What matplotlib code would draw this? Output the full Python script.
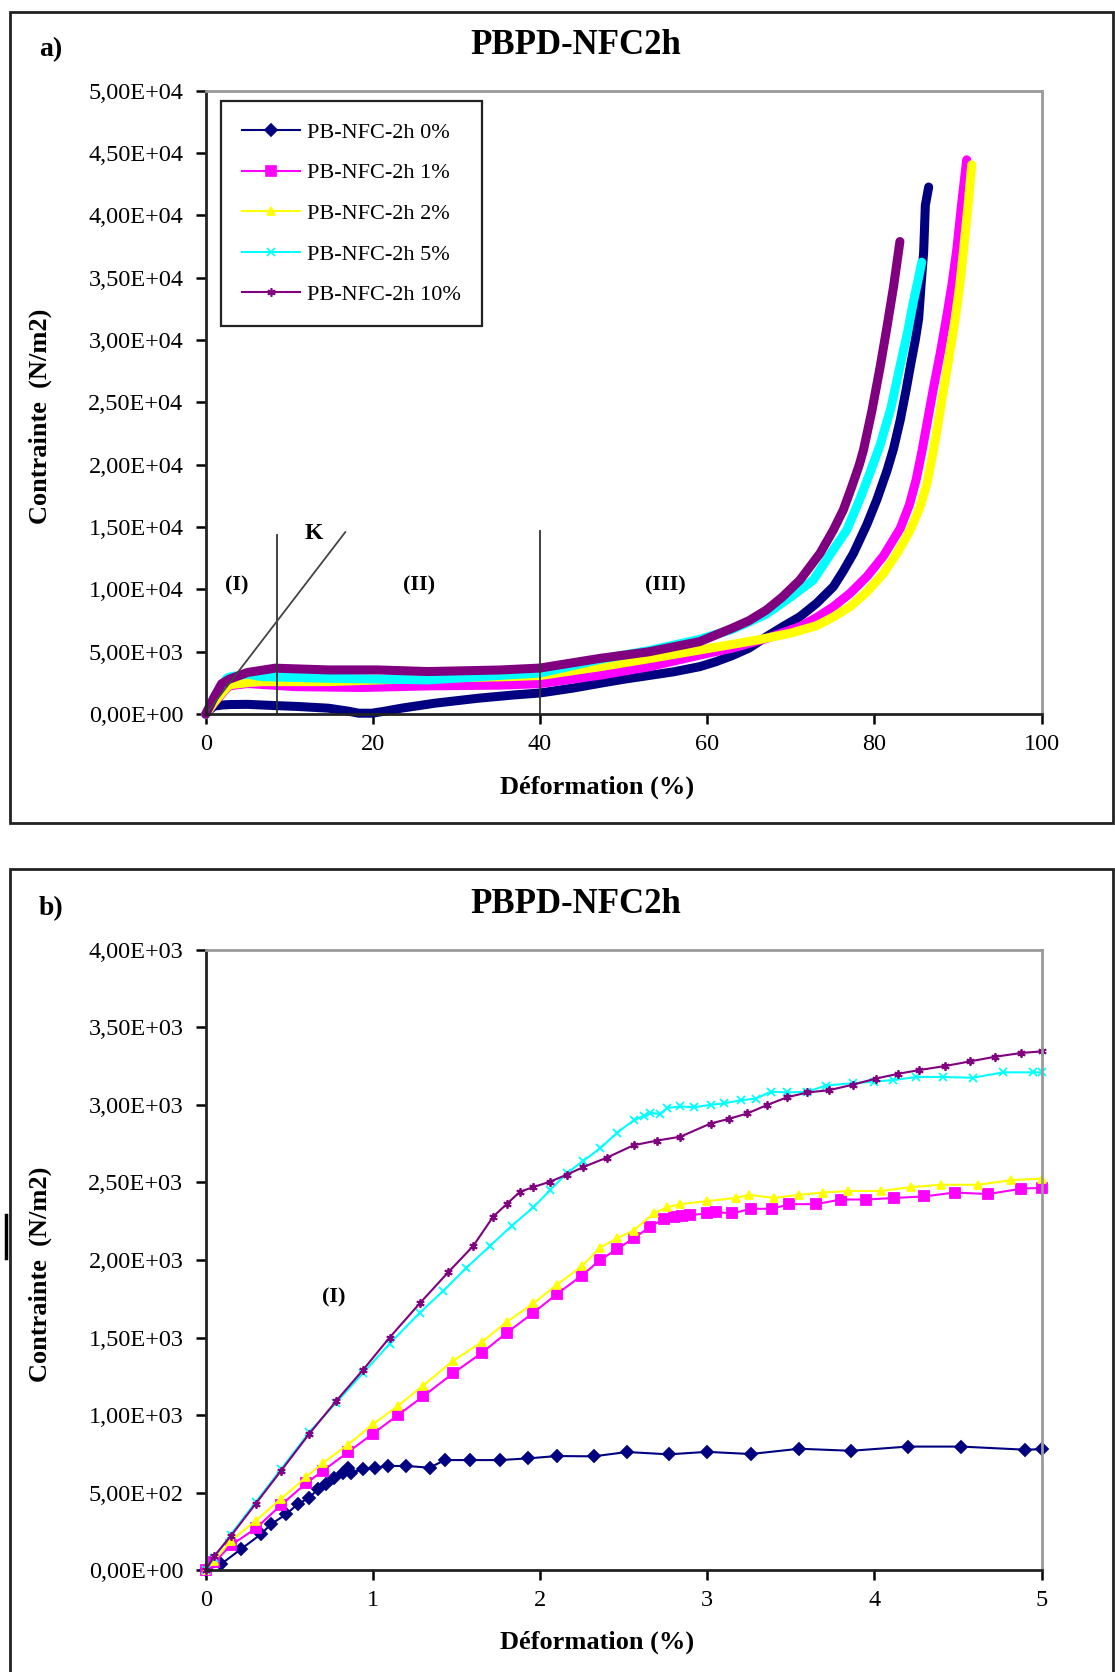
import matplotlib
matplotlib.use("Agg")
import matplotlib.pyplot as plt
from matplotlib.lines import Line2D
from matplotlib.patches import Rectangle
from matplotlib.ticker import FuncFormatter

plt.rcParams['font.family'] = ['Liberation Serif', 'DejaVu Serif']

W, H = 1115, 1672

labels = ["PB-NFC-2h 0%", "PB-NFC-2h 1%", "PB-NFC-2h 2%", "PB-NFC-2h 5%", "PB-NFC-2h 10%"]
colors = ["#000080", "#ff00ff", "#ffff00", "#00ffff", "#800080"]
markers = ["D", "s", "^", "x", (6, 2, 0)]

# ---- panel a : full test (strain %, stress N/m2)
a_x0 = [0, 0.5, 1, 2, 3, 5, 8, 11, 14.7, 17, 18.3, 19.9, 21.5, 23.4, 27.4, 32.6, 37, 40, 44, 47.2, 50, 53,
        56, 59.1, 61, 63, 65, 67.1, 69, 71.1, 73.1, 75.1, 76.3, 77.5, 79.1, 80.3, 81.5, 82.3, 83.1, 83.8, 84.3,
        84.9, 85.3, 85.6, 85.9, 86.1, 86.5]
a_y0 = [0, 360, 650, 740, 775, 790, 700, 620, 480, 250, 80, 80, 250, 480, 880, 1280, 1550, 1700, 2100, 2480,
        2800, 3100, 3400, 3810, 4200, 4700, 5300, 6220, 7000, 7820, 8900, 10226, 11500, 12900, 15200, 17200,
        19500, 21300, 23590, 26000, 27870, 30000, 31700, 34500, 37050, 40800, 42270]
a_x1 = [0, 0.5, 1, 2, 2.8, 3.1, 5, 10.7, 18.7, 26.6, 35.2, 40, 47.2, 53, 59.1, 63, 67, 71.1, 73.1, 75.1, 77.1,
        79.1, 81.1, 83.1, 84.2, 85, 85.67, 86.3, 87.06, 87.9, 88.66, 89.3, 89.86, 90.46, 91.05]
a_y1 = [0, 450, 890, 1690, 2280, 2300, 2460, 2210, 2140, 2270, 2330, 2450, 3130, 3800, 4740, 5300, 6050, 7020,
        7750, 8620, 9700, 11030, 12700, 14900, 16800, 18800, 21000, 23300, 26100, 29000, 31880, 34500, 37230,
        41000, 44450]
a_x2 = [0, 0.5, 1, 2, 2.8, 3.1, 5, 6.7, 14.7, 26.6, 36.2, 40, 47.2, 53, 59.1, 63, 66, 70, 73.1, 75.1, 77.1,
        79.1, 81.1, 82.8, 84.3, 85.4, 86.3, 87, 87.6, 88.25, 89, 89.65, 90.2, 90.64, 91.24, 91.65]
a_y2 = [0, 470, 950, 1760, 2340, 2380, 2530, 2610, 2610, 2880, 3010, 3100, 3810, 4450, 5150, 5600, 5950, 6500,
        7100, 7800, 8620, 9800, 11300, 13000, 14770, 16500, 18500, 20900, 23200, 25900, 28900, 31600, 34300,
        37000, 41000, 44050]
a_x5 = [0, 1, 1.96, 2.56, 3, 5, 6.7, 14.7, 26.6, 36.2, 40, 47.2, 53, 59.1, 63, 65, 67, 70, 72.7, 74.7, 76.7,
        78.3, 79.5, 80.7, 82, 83.06, 84, 84.66, 85.2, 85.67]
a_y5 = [0, 1350, 2340, 2900, 3000, 3210, 3010, 2880, 2750, 3150, 3300, 4400, 5100, 6000, 6800, 7400, 8000, 9400,
        10760, 12800, 14770, 17300, 19400, 21600, 24600, 27870, 30700, 33030, 34700, 36240]
a_x10 = [0, 1, 1.9, 2.8, 5, 8.3, 14.7, 20.6, 26.6, 35.2, 40, 47.2, 53, 59.1, 63, 65, 67.1, 69, 71.1, 73.5, 75.1,
         76.3, 77.3, 78.2, 78.7, 79.7, 80.7, 81.5, 82.3, 83.06]
a_y10 = [0, 1350, 2440, 2800, 3345, 3690, 3550, 3550, 3420, 3545, 3700, 4480, 5000, 5820, 6900, 7500, 8360, 9400,
         10760, 12900, 14770, 16400, 18240, 20000, 21190, 24300, 27870, 31000, 34290, 37900]

# ---- panel b : zoom on the first 5 %
b_x0 = [0, 0.09, 0.21, 0.33, 0.39, 0.48, 0.55, 0.62, 0.67, 0.72, 0.77, 0.82, 0.85, 0.87, 0.94, 1.01, 1.09,
        1.2, 1.34, 1.43, 1.58, 1.76, 1.93, 2.1, 2.32, 2.52, 2.77, 3.0, 3.26, 3.55, 3.86, 4.2, 4.52, 4.9, 5.0]
b_y0 = [0, 38, 135, 232, 296, 360, 425, 468, 521, 553, 597, 629, 661, 629, 650, 661, 672, 672, 661, 710,
        710, 710, 721, 736, 734, 762, 747, 763, 749, 783, 770, 797, 797, 777, 780]
b_x1 = [0, 0.05, 0.15, 0.3, 0.45, 0.6, 0.7, 0.85, 1.0, 1.15, 1.3, 1.48, 1.65, 1.8, 1.96, 2.1, 2.25, 2.36, 2.46,
        2.56, 2.66, 2.74, 2.8, 2.85, 2.9, 3.0, 3.05, 3.15, 3.26, 3.39, 3.49, 3.65, 3.8, 3.95, 4.12, 4.3, 4.48,
        4.68, 4.88, 5.0]
b_y1 = [0, 50, 160, 270, 420, 560, 640, 760, 880, 1000, 1120, 1270, 1400, 1530, 1660, 1780, 1900, 2000, 2070,
        2140, 2215, 2265, 2280, 2285, 2290, 2300, 2310, 2300, 2330, 2330, 2360, 2360, 2390, 2390, 2400, 2410,
        2435, 2425, 2460, 2465]
b_x2 = [0, 0.05, 0.15, 0.3, 0.45, 0.6, 0.7, 0.85, 1.0, 1.15, 1.3, 1.48, 1.65, 1.8, 1.96, 2.1, 2.25, 2.36, 2.46,
        2.56, 2.68, 2.76, 2.84, 3.0, 3.17, 3.25, 3.4, 3.55, 3.69, 3.84, 4.04, 4.22, 4.4, 4.62, 4.82, 5.0]
b_y2 = [0, 60, 190, 320, 460, 600, 690, 810, 940, 1060, 1190, 1350, 1470, 1600, 1720, 1840, 1960, 2080, 2140,
        2190, 2300, 2340, 2360, 2380, 2400, 2420, 2400, 2420, 2435, 2445, 2445, 2470, 2485, 2485, 2515, 2525]
b_x5 = [0, 0.05, 0.15, 0.3, 0.45, 0.62, 0.78, 0.94, 1.1, 1.28, 1.42, 1.56, 1.7, 1.83, 1.96, 2.06, 2.16, 2.26,
        2.36, 2.46, 2.56, 2.62, 2.66, 2.72, 2.76, 2.84, 2.92, 3.02, 3.1, 3.2, 3.29, 3.38, 3.48, 3.6, 3.71, 3.87,
        4.0, 4.11, 4.25, 4.41, 4.59, 4.77, 4.95, 5.0]
b_y5 = [0, 80, 230, 440, 650, 890, 1080, 1270, 1460, 1660, 1800, 1950, 2090, 2220, 2340, 2450, 2560, 2640,
        2720, 2820, 2900, 2930, 2950, 2940, 2980, 2990, 2985, 3000, 3010, 3030, 3040, 3085, 3080, 3085, 3125,
        3140, 3150, 3160, 3180, 3180, 3175, 3210, 3210, 3210]
b_x10 = [0, 0.05, 0.15, 0.3, 0.45, 0.62, 0.78, 0.94, 1.1, 1.28, 1.45, 1.6, 1.72, 1.8, 1.88, 1.96, 2.06, 2.16,
         2.26, 2.4, 2.56, 2.7, 2.84, 3.02, 3.13, 3.24, 3.36, 3.48, 3.6, 3.73, 3.87, 4.01, 4.14, 4.27, 4.42, 4.57,
         4.72, 4.88, 5.0]
b_y10 = [0, 90, 220, 430, 640, 880, 1090, 1290, 1500, 1720, 1920, 2090, 2280, 2360, 2440, 2470, 2505, 2550,
         2600, 2660, 2740, 2770, 2795, 2880, 2910, 2945, 3000, 3050, 3080, 3095, 3130, 3170, 3200, 3225, 3250,
         3280, 3310, 3335, 3345]

a_series = [(a_x0, a_y0), (a_x1, a_y1), (a_x2, a_y2), (a_x5, a_y5), (a_x10, a_y10)]
b_series = [(b_x0, b_y0), (b_x1, b_y1), (b_x2, b_y2), (b_x5, b_y5), (b_x10, b_y10)]


def fx(x):
    return x / W


def fy(y):
    return 1 - y / H


def sci_comma(v, pos):
    return f"{v:.2E}".replace(".", ",")


def style_axes(ax, xmax, ymax, ystep):
    ax.set_xlim(0, xmax)
    ax.set_ylim(0, ymax)
    ax.set_yticks([i * ystep for i in range(int(round(ymax / ystep)) + 1)])
    ax.yaxis.set_major_formatter(FuncFormatter(sci_comma))
    for s in ["left", "bottom"]:
        ax.spines[s].set_color("#222222")
        ax.spines[s].set_linewidth(2)
    for s in ["top", "right"]:
        ax.spines[s].set_color("#9a9a9a")
        ax.spines[s].set_linewidth(2)
    ax.tick_params(direction="out", length=7, width=1.8, labelsize=17.5)
    ax.tick_params(axis="y", pad=9)
    ax.tick_params(axis="x", pad=7)


fig = plt.figure(figsize=(W / 100, H / 100), dpi=100)

# panel frames
fig.add_artist(Rectangle((fx(10), fy(823)), fx(1103), 811 / H, transform=fig.transFigure,
                         fill=False, edgecolor="#222222", linewidth=2))
fig.add_artist(Rectangle((fx(10), fy(1690)), fx(1103), 821 / H, transform=fig.transFigure,
                         fill=False, edgecolor="#222222", linewidth=2))
fig.add_artist(Line2D([fx(6), fx(6)], [fy(1215), fy(1258)], transform=fig.transFigure,
                      color="black", linewidth=2.5))

# ---- panel a
ax1 = fig.add_axes([fx(205.7), fy(714.2), (1041.5 - 205.7) / W, (714.2 - 90.6) / H])
for (x, y), c in zip(a_series, colors):
    ax1.plot(x, y, color=c, linewidth=6.5, solid_joinstyle="round", solid_capstyle="round", clip_on=False)
style_axes(ax1, 100, 50000, 5000)
ax1.set_xticks([0, 20, 40, 60, 80, 100])

ax1.plot([8.5, 8.5], [0, 14400], color="#333333", linewidth=1.3)
ax1.plot([40, 40], [0, 14700], color="#333333", linewidth=1.3)
ax1.plot([0, 16.7], [0, 14600], color="#444444", linewidth=1.3)
ax1.text(12.9, 14500, "K", fontsize=17, fontweight="bold", ha="center", va="center")
ax1.text(3.75, 10330, "(I)", fontsize=16, fontweight="bold", ha="center", va="center")
ax1.text(25.5, 10330, "(II)", fontsize=16, fontweight="bold", ha="center", va="center")
ax1.text(55.0, 10330, "(III)", fontsize=16, fontweight="bold", ha="center", va="center")

handles = [Line2D([], [], color=c, marker=m, markersize=6 if m != "s" else 7, linewidth=1.5,
                  markeredgewidth=1.2) for c, m in zip(colors, markers)]
leg = ax1.legend(handles, labels, loc="upper left", bbox_to_anchor=(0.018, 0.983), fontsize=16,
                 frameon=True, fancybox=False, edgecolor="#222222", framealpha=1, borderaxespad=0,
                 handlelength=2.6, labelspacing=0.9, borderpad=0.95, handletextpad=0.35)
leg.get_frame().set_linewidth(1.6)

fig.text(fx(51), fy(50), "a)", fontsize=20, fontweight="bold", ha="center", va="center")
fig.text(fx(576), fy(45), "PBPD-NFC2h", fontsize=25, fontweight="bold", ha="center", va="center")
fig.text(fx(597), fy(787), "Déformation (%)", fontsize=19, fontweight="bold", ha="center", va="center")
fig.text(fx(40), fy(416), "Contrainte  (N/m2)", fontsize=19, fontweight="bold", ha="center", va="center",
         rotation=90)

# ---- panel b
ax2 = fig.add_axes([fx(205.7), fy(1570.2), (1041.5 - 205.7) / W, (1570.2 - 949.8) / H])
for (x, y), c, m in zip(b_series, colors, markers):
    ax2.plot(x, y, color=c, linewidth=1.5, marker=m, markersize=6 if m != "s" else 7,
             markeredgewidth=1.3, clip_on=False)
style_axes(ax2, 5, 4000, 500)
ax2.set_xticks([0, 1, 2, 3, 4, 5])
ax2.text(0.765, 1760, "(I)", fontsize=16, fontweight="bold", ha="center", va="center")

fig.text(fx(51), fy(909), "b)", fontsize=20, fontweight="bold", ha="center", va="center")
fig.text(fx(576), fy(904), "PBPD-NFC2h", fontsize=25, fontweight="bold", ha="center", va="center")
fig.text(fx(597), fy(1642), "Déformation (%)", fontsize=19, fontweight="bold", ha="center", va="center")
fig.text(fx(40), fy(1274), "Contrainte  (N/m2)", fontsize=19, fontweight="bold", ha="center", va="center",
         rotation=90)

fig.savefig("out.png", dpi=100)
